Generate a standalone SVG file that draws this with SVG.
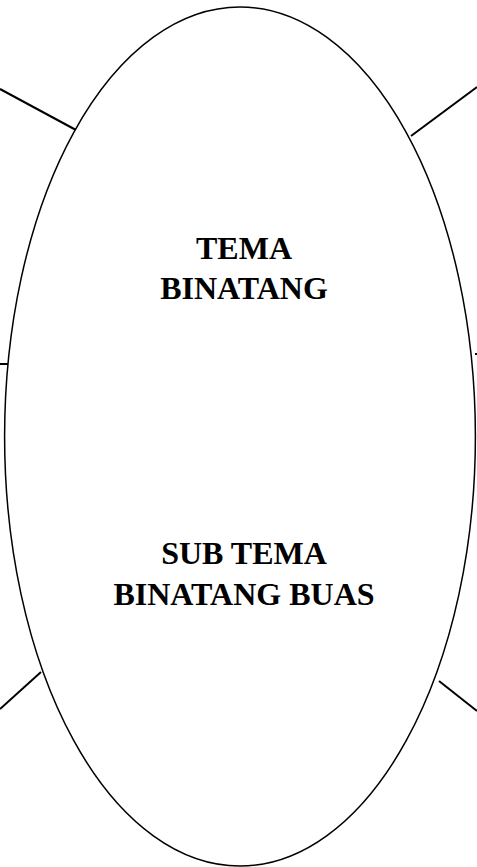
<svg xmlns="http://www.w3.org/2000/svg" width="477" height="867" viewBox="0 0 477 867">
<style>
.ln{stroke:#000;stroke-width:2;fill:none}
.el{stroke:#000;stroke-width:1.5;fill:#fff}
.t{font-family:"Liberation Serif",serif;font-weight:bold;font-size:32px;text-anchor:middle;fill:#000}
</style>
<rect width="477" height="867" fill="#fff"/>
<g id="connectors">
<line class="ln" x1="0" y1="89" x2="76" y2="130"/>
<line class="ln" x1="411" y1="136" x2="477" y2="87"/>
<line class="ln" x1="0" y1="364" x2="8" y2="364"/>
<line class="ln" x1="475" y1="354" x2="477" y2="354"/>
<line class="ln" x1="0" y1="709" x2="41" y2="672"/>
<line class="ln" x1="439" y1="681" x2="477" y2="711"/>
</g>
<g id="center">
<ellipse class="el" cx="240" cy="436.5" rx="235.4" ry="429.5"/>
<text class="t" x="244" y="259">TEMA</text>
<text class="t" x="244" y="299">BINATANG</text>
<text class="t" x="244" y="564">SUB TEMA</text>
<text class="t" x="244" y="605">BINATANG BUAS</text>
</g>
</svg>
